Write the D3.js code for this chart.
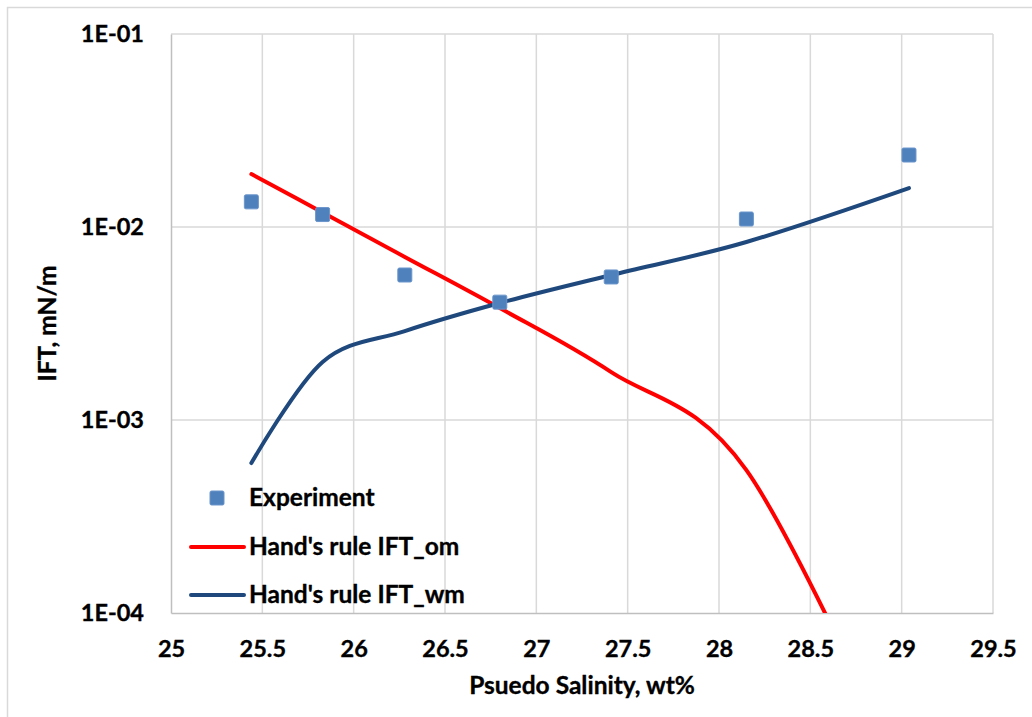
<!DOCTYPE html>
<html>
<head>
<meta charset="utf-8">
<script src="https://cdn.jsdelivr.net/npm/d3@7"></script>
<style>
  html, body { margin: 0; padding: 0; background: #fff; }
  svg text { font-family: Lato, "Open Sans", sans-serif; font-weight: 700; fill: #000;
             stroke: #000; stroke-width: 0.35px; }
</style>
</head>
<body>
<svg id="chart" width="1032" height="717"></svg>
<script>
// Salinity scan: measured IFT and Hand's rule predictions
const salinity   = [25.44, 25.83, 26.28, 26.80, 27.41, 28.15, 29.04];
const experiment = [0.0135, 0.0116, 0.00564, 0.00408, 0.00551, 0.0110, 0.0236];
const iftOm      = [0.0188, 0.0119, 0.0070, 0.0038, 0.00177, 0.00055, 0.000012];
const iftWm      = [0.000598, 0.0020, 0.00289, 0.00404, 0.00564, 0.00836, 0.0159];

const xTickValues = [25, 25.5, 26, 26.5, 27, 27.5, 28, 28.5, 29, 29.5];
const yTickValues = [1e-1, 1e-2, 1e-3, 1e-4];
const yTickLabels = ["1E-01", "1E-02", "1E-03", "1E-04"];

const seriesNames = ["Experiment", "Hand's rule IFT_om", "Hand's rule IFT_wm"];
const colors = { exp: "#4F81BD", om: "#FF0000", wm: "#1F497D" };

const W = 1032, H = 717;
const plot = { left: 171, top: 34, right: 993, bottom: 613 };

const svg = d3.select("#chart");

// chart frame
svg.append("rect")
  .attr("x", 7.5).attr("y", 7.5)
  .attr("width", W + 20).attr("height", H + 20)
  .attr("fill", "#fff").attr("stroke", "#D9D9D9").attr("stroke-width", 1.5);

const x = d3.scaleLinear().domain([25, 29.5]).range([plot.left, plot.right]);
const y = d3.scaleLog().domain([1e-4, 1e-1]).range([plot.bottom, plot.top]);

// gridlines
const grid = svg.append("g");
grid.selectAll("line.v").data(xTickValues.slice(1)).join("line")
  .attr("x1", d => x(d)).attr("x2", d => x(d))
  .attr("y1", plot.top).attr("y2", plot.bottom)
  .attr("stroke", "#D9D9D9").attr("stroke-width", 1.5);
grid.selectAll("line.h").data(yTickValues.slice(0, -1)).join("line")
  .attr("x1", plot.left).attr("x2", plot.right)
  .attr("y1", d => y(d)).attr("y2", d => y(d))
  .attr("stroke", "#D9D9D9").attr("stroke-width", 1.5);

// axes
const xAxis = svg.append("g")
  .attr("transform", `translate(0,${plot.bottom})`)
  .call(d3.axisBottom(x).tickValues(xTickValues).tickSize(0).tickPadding(27)
    .tickFormat(d => String(d)));
xAxis.select(".domain").attr("stroke", "#BFBFBF").attr("stroke-width", 1.5);
xAxis.selectAll("text").attr("font-size", 23.5).attr("font-family", null);

const yAxis = svg.append("g")
  .attr("transform", `translate(${plot.left},0)`)
  .call(d3.axisLeft(y).tickValues(yTickValues).tickSize(0).tickPadding(27)
    .tickFormat((d, i) => yTickLabels[i]));
yAxis.select(".domain").attr("stroke", "#BFBFBF").attr("stroke-width", 1.5);
yAxis.selectAll("text").attr("font-size", 23.5).attr("font-family", null);

// axis titles
svg.append("text")
  .attr("x", (plot.left + plot.right) / 2).attr("y", 694)
  .attr("text-anchor", "middle").attr("font-size", 24.5)
  .text("Psuedo Salinity, wt%");
svg.append("text")
  .attr("transform", `translate(56,${(plot.top + plot.bottom) / 2}) rotate(-90)`)
  .attr("text-anchor", "middle").attr("font-size", 24.5)
  .text("IFT, mN/m");

// clipped model curves
svg.append("clipPath").attr("id", "plotClip")
  .append("rect")
  .attr("x", plot.left).attr("y", plot.top)
  .attr("width", plot.right - plot.left).attr("height", plot.bottom - plot.top);

const line = d3.line()
  .x(d => x(d[0])).y(d => y(d[1]))
  .curve(d3.curveCardinal.tension(0));

const curves = svg.append("g").attr("clip-path", "url(#plotClip)");
curves.append("path")
  .attr("d", line(d3.zip(salinity, iftOm)))
  .attr("fill", "none").attr("stroke", colors.om)
  .attr("stroke-width", 4).attr("stroke-linecap", "round");
curves.append("path")
  .attr("d", line(d3.zip(salinity, iftWm)))
  .attr("fill", "none").attr("stroke", colors.wm)
  .attr("stroke-width", 4).attr("stroke-linecap", "round");

// measured points
const m = 14;
svg.append("g").selectAll("rect").data(d3.zip(salinity, experiment)).join("rect")
  .attr("x", d => x(d[0]) - m / 2).attr("y", d => y(d[1]) - m / 2)
  .attr("width", m).attr("height", m).attr("rx", 1.5)
  .attr("fill", colors.exp).attr("stroke", "#6A95CB").attr("stroke-width", 1);

// legend
const lg = svg.append("g");
lg.append("rect").attr("x", 217 - m / 2).attr("y", 498 - m / 2)
  .attr("width", m).attr("height", m).attr("rx", 1.5)
  .attr("fill", colors.exp).attr("stroke", "#6A95CB").attr("stroke-width", 1);
lg.append("line").attr("x1", 191).attr("x2", 244).attr("y1", 547).attr("y2", 547)
  .attr("stroke", colors.om).attr("stroke-width", 4).attr("stroke-linecap", "round");
lg.append("line").attr("x1", 191).attr("x2", 244).attr("y1", 595).attr("y2", 595)
  .attr("stroke", colors.wm).attr("stroke-width", 4).attr("stroke-linecap", "round");
lg.selectAll("text").data(seriesNames).join("text")
  .attr("x", 249).attr("y", (d, i) => [506, 555, 603][i])
  .attr("font-size", 24.5)
  .text(d => d);
</script>
</body>
</html>
